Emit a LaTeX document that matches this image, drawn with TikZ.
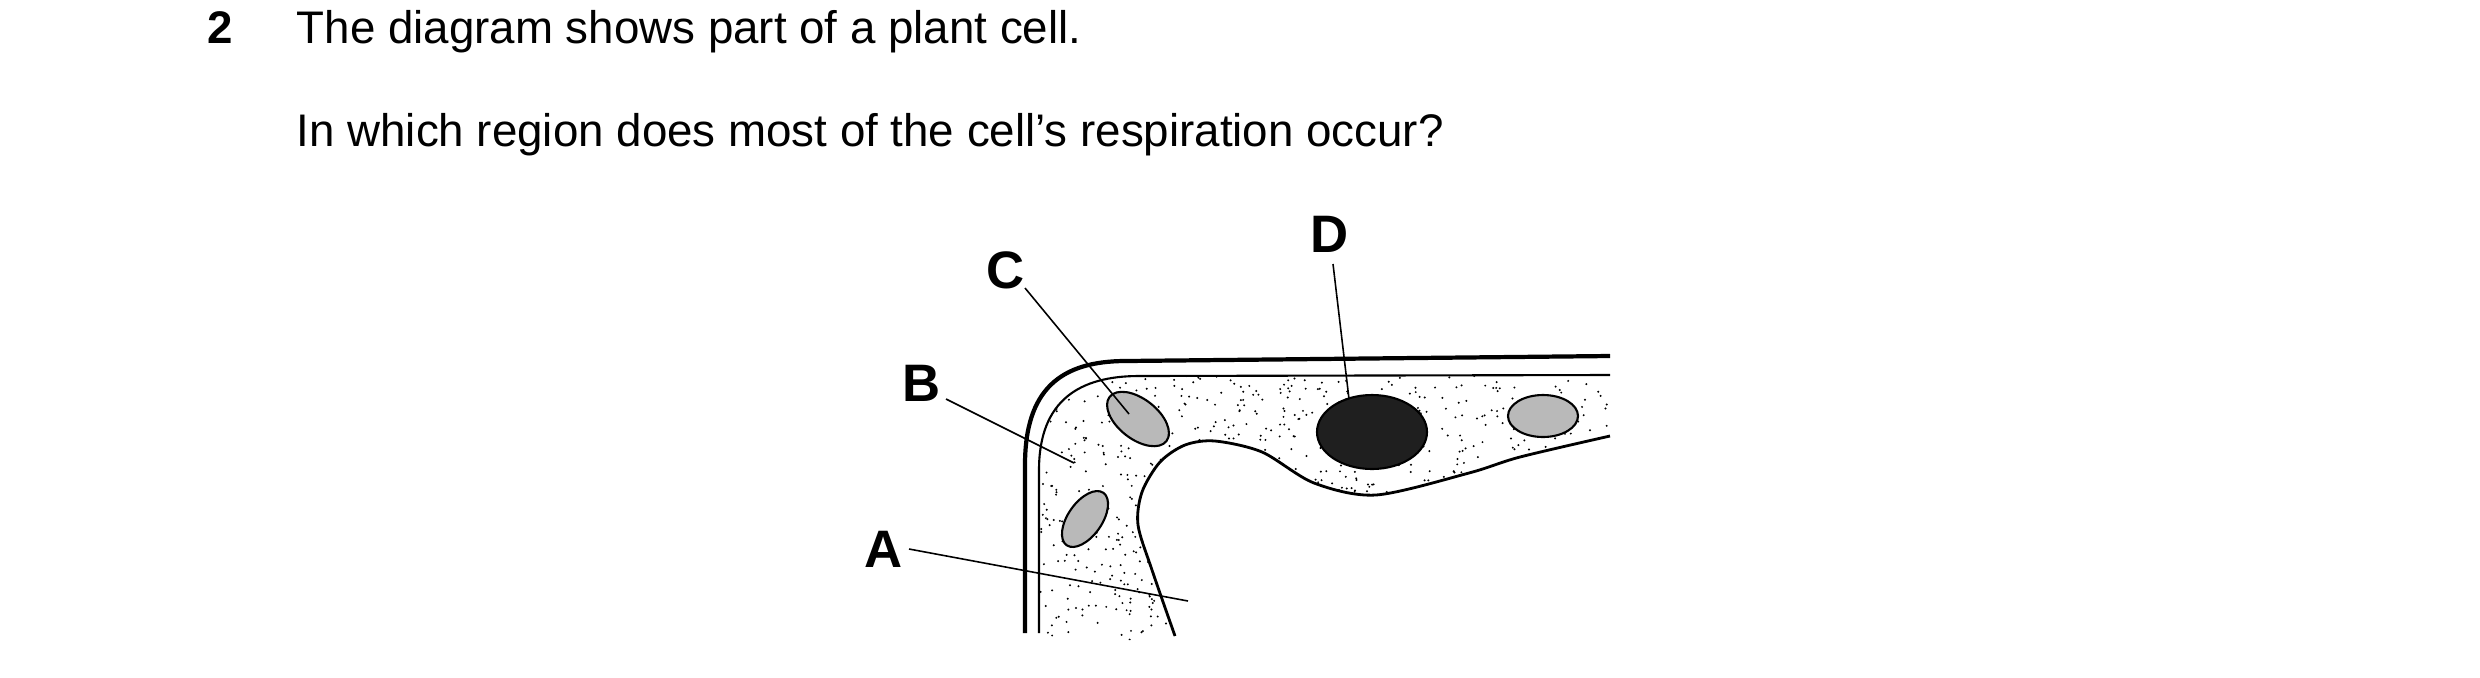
\documentclass[tikz,border=0pt]{standalone}
\usepackage{fontspec}
\setmainfont{Liberation Sans}
\usetikzlibrary{positioning}
\tikzset{
  qtext/.style = {anchor=base west, inner sep=0pt, font=\fontsize{13}{15}\selectfont},
  lbl/.style = {inner sep=0pt, font=\fontsize{15}{18}\selectfont\bfseries},
  leader/.style = {line width=0.45pt},
  plastid/.style = {draw, line width=0.6pt, fill=gray!55},
}
\newcommand\vacpts{(1610,436) (1520,457) (1469,473) (1376,495) (1314,483)
        (1262,452) (1215,441) (1185,445) (1160,462) (1142,492) (1138,525) (1152,570) (1175,636)}
\begin{document}
\begin{tikzpicture}[x=0.1mm,y=-0.1mm]
  \useasboundingbox (0,0) rectangle (2480,677);
  % question text
  \node [qtext] (num) at (207,43) {\textbf{2}};
  \node [qtext] (q1) at (296,43) {The diagram shows part of a plant cell.};
  \node [qtext] (q2) at (296,146) {In which region does most of the cell’s respiration occur?};
  % stippled cytoplasm
  \begin{scope}
    \clip (1039,640) -- (1039,470) .. controls (1039,400) and (1080,376) .. (1139,376)
      -- (1610,375) -- plot[smooth] coordinates {\vacpts} -- (1175,640) -- cycle;
    \pgfmathsetseed{7}
    \foreach \i in {1,...,1100}{
      \pgfmathsetmacro\px{1040+580*rnd}
      \pgfmathsetmacro\py{370+270*rnd}
      \fill (\px,\py) circle (1.1);
    }
  \end{scope}
  % cell wall and membrane
  \draw [line width=1.2pt] (1025,633) -- (1025,465) .. controls (1025,390) and (1060,361) .. (1126,361) -- (1610,356);
  \draw [line width=0.6pt] (1039,633) -- (1039,470) .. controls (1039,400) and (1080,376) .. (1139,376) -- (1610,375);
  % vacuole
  \draw [line width=0.8pt] plot[smooth] coordinates {\vacpts};
  % organelles
  \draw [plastid] (1138,419) ellipse [x radius=36, y radius=20, rotate=-38];
  \draw [plastid] (1085,519) ellipse [x radius=32, y radius=17, rotate=55];
  \draw [plastid] (1543,416) ellipse [x radius=35, y radius=21];
  \fill [black!88] (1372,432) ellipse [x radius=55, y radius=37];
  \draw [line width=0.6pt] (1372,432) ellipse [x radius=55, y radius=37];
  % labels
  \node [lbl] (C) at (1006,270) {C};
  \node [lbl] (B) at (922,383) {B};
  \node [lbl] (D) at (1330,234) {D};
  \node [lbl] (A) at (884,549) {A};
  \coordinate (cEnd) at (1129,414);
  \coordinate (bEnd) at (1074,463);
  \coordinate (dEnd) at (1349,399);
  \coordinate (aEnd) at (1188,601);
  \draw [leader] (1025,288) -- (cEnd);
  \draw [leader] (946,399) -- (bEnd);
  \draw [leader] (1333,264) -- (dEnd);
  \draw [leader] (909,549) -- (aEnd);
\end{tikzpicture}
\end{document}
